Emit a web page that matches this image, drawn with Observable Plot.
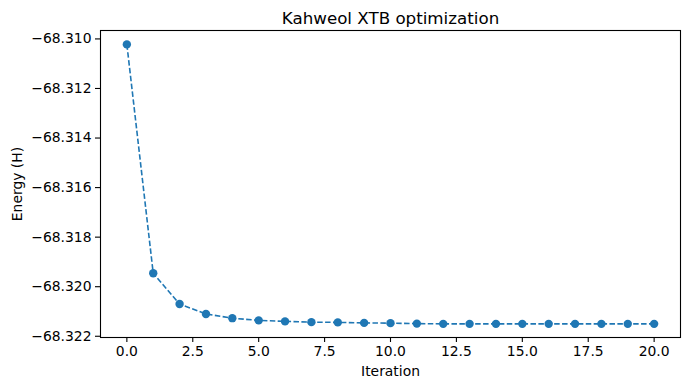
<!DOCTYPE html>
<html>
<head>
<meta charset="utf-8">
<script src="https://cdn.jsdelivr.net/npm/d3@7"></script>
<script src="https://cdn.jsdelivr.net/npm/@observablehq/plot@0.6"></script>
<style>
  html, body { margin: 0; padding: 0; background: #fff; }
  svg { display: block; }
</style>
</head>
<body>
<div id="chart"></div>
<script>
const iterations = [0, 1, 2, 3, 4, 5, 6, 7, 8, 9, 10, 11, 12, 13, 14, 15, 16, 17, 18, 19, 20];
const energies = [
  -68.31022, -68.31946, -68.32070, -68.32110, -68.32127, -68.32136, -68.32140,
  -68.32143, -68.32144, -68.32146, -68.32147, -68.32149, -68.32150, -68.32150,
  -68.32150, -68.32150, -68.32150, -68.32150, -68.32150, -68.32150, -68.32150
];
const xTicks = [0, 2.5, 5, 7.5, 10, 12.5, 15, 17.5, 20];
const yTicks = [-68.310, -68.312, -68.314, -68.316, -68.318, -68.320, -68.322];
const titleText = "Kahweol XTB optimization";
const xLabel = "Iteration";
const yLabel = "Energy (H)";

const data = iterations.map((it, i) => ({iteration: it, energy: energies[i]}));
const color = "#1f77b4";

const chart = Plot.plot({
  width: 690,
  height: 390,
  marginLeft: 100,
  marginRight: 10,
  marginTop: 30,
  marginBottom: 53,
  style: {fontFamily: "'DejaVu Sans', sans-serif", fontSize: "13.9px", color: "#000", background: "#fff"},
  x: {domain: [-1, 21]},
  y: {domain: [-68.32205, -68.30966]},
  marks: [
    Plot.frame({stroke: "#000", strokeWidth: 1.1}),
    Plot.axisX({ticks: xTicks, tickFormat: d3.format(".1f"), tickSize: 5, tickPadding: 4, strokeWidth: 1.1,
      label: xLabel, labelAnchor: "center", labelArrow: "none", labelOffset: 38}),
    Plot.axisY({ticks: yTicks, tickFormat: d3.format(".3f"), tickSize: 5, tickPadding: 4, strokeWidth: 1.1,
      label: yLabel, labelAnchor: "center", labelArrow: "none", labelOffset: 88}),
    Plot.line(data, {x: "iteration", y: "energy", stroke: color, strokeWidth: 1.6,
      strokeDasharray: "5.5,2.4", strokeLinecap: "butt"}),
    Plot.dot(data, {x: "iteration", y: "energy", r: 4.2, fill: color, stroke: "none"}),
    Plot.text([titleText], {text: d => d, frameAnchor: "top", dy: -18, fontSize: 16.7})
  ]
});
document.getElementById("chart").appendChild(chart);
</script>
</body>
</html>
